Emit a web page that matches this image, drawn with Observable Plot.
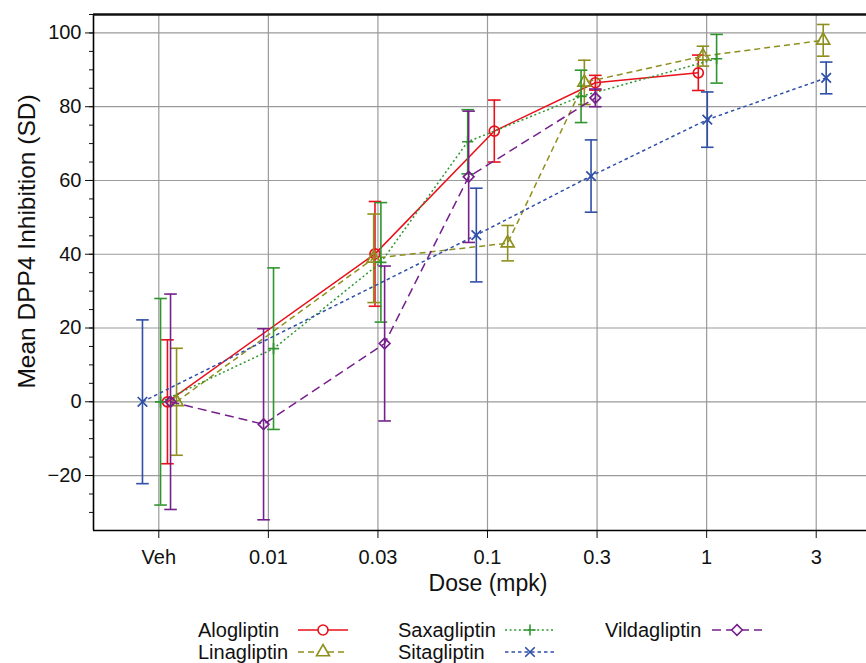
<!DOCTYPE html>
<html><head><meta charset="utf-8">
<script src="https://cdn.jsdelivr.net/npm/d3@7"></script>
<script src="https://cdn.jsdelivr.net/npm/@observablehq/plot@0.6"></script>
<style>
html,body{margin:0;padding:0;background:#fff;overflow:hidden}
#chart{position:relative;width:866px;height:663px;overflow:hidden;font-family:"Liberation Sans",Arial,sans-serif}
#legend{position:absolute;left:0;top:0;width:866px;height:663px;pointer-events:none}
.leg-item{position:absolute;display:flex;align-items:center;font-size:20px;color:#111;white-space:nowrap;height:22px}
.leg-item svg{display:block}
</style></head><body><div id="chart"><div id="legend"></div></div>
<script>
// ---- data ----
const doses = ["Veh", "0.01", "0.03", "0.1", "0.3", "1", "3"];
const seriesNames = ["Alogliptin", "Linagliptin", "Saxagliptin", "Sitagliptin", "Vildagliptin"];

// dose index, mean, SD, horizontal jitter (in dose-index units)
const aloDose = [0, 2, 3, 4, 5];
const aloMean = [0, 40.1, 73.4, 86.5, 89.2];
const aloSD   = [16.8, 14.2, 8.4, 2.0, 4.8];
const aloJit  = [0.079, -0.027, 0.062, -0.016, -0.076];

const linDose = [0, 2, 3, 4, 5, 6];
const linMean = [0, 38.9, 43.0, 86.6, 93.7, 98.0];
const linSD   = [14.5, 12.0, 4.8, 6.0, 2.7, 4.3];
const linJit  = [0.162, -0.039, 0.184, -0.116, -0.034, 0.064];

const saxDose = [0, 1, 2, 3, 4, 5];
const saxMean = [0, 14.4, 37.8, 70.5, 82.8, 93.0];
const saxSD   = [28.0, 21.9, 16.2, 8.7, 7.1, 6.6];
const saxJit  = [0.016, 0.047, 0.027, -0.181, -0.146, 0.091];

const sitDose = [0, 3, 4, 5, 6];
const sitMean = [0, 45.2, 61.2, 76.5, 87.8];
const sitSD   = [22.2, 12.7, 9.8, 7.5, 4.3];
const sitJit  = [-0.149, -0.102, -0.055, 0.006, 0.091];

const vilDose = [0, 1, 2, 3, 4];
const vilMean = [0, -6.1, 15.8, 61.0, 82.4];
const vilSD   = [29.2, 25.9, 21.0, 17.8, 2.4];
const vilJit  = [0.107, -0.044, 0.061, -0.172, -0.016];

const yMajorTicks = [-20, 0, 20, 40, 60, 80, 100];

// ---- styling ----
const styles = {
  Alogliptin:   {color: "#e8111b", dash: null,    symbol: "circle",    r: 5.0},
  Linagliptin:  {color: "#8f8f1f", dash: "6,4",   symbol: "triangle2", r: 6.2},
  Saxagliptin:  {color: "#2f962f", dash: "2,2.6", symbol: "plus",      r: 3.7},
  Sitagliptin:  {color: "#2f4fa8", dash: "3.5,3", symbol: "times",     r: 4.4},
  Vildagliptin: {color: "#76208c", dash: "9,5",   symbol: "diamond2",  r: 4.8}
};

function build(name, dose, mean, sd, jit) {
  return dose.map((d, i) => ({series: name, x: d + jit[i], mean: mean[i], lo: mean[i] - sd[i], hi: mean[i] + sd[i]}));
}
const data = {
  Alogliptin: build("Alogliptin", aloDose, aloMean, aloSD, aloJit),
  Linagliptin: build("Linagliptin", linDose, linMean, linSD, linJit),
  Saxagliptin: build("Saxagliptin", saxDose, saxMean, saxSD, saxJit),
  Sitagliptin: build("Sitagliptin", sitDose, sitMean, sitSD, sitJit),
  Vildagliptin: build("Vildagliptin", vilDose, vilMean, vilSD, vilJit)
};

const capSymbol = {draw(ctx, size) { const w = Math.sqrt(size); ctx.moveTo(-w, 0); ctx.lineTo(w, 0); }};

const xDomain = [-0.596, 6.459];
const yDomain = [-34.9, 105];

const marks = [
  Plot.gridX({ticks: d3.range(doses.length), stroke: "#9a9a9a", strokeOpacity: 1, strokeWidth: 1.2}),
  Plot.gridY({ticks: yMajorTicks, stroke: "#9a9a9a", strokeOpacity: 1, strokeWidth: 1.2}),
];
for (const name of seriesNames) {
  const st = styles[name], rows = data[name];
  marks.push(
    Plot.line(rows, {x: "x", y: "mean", stroke: st.color, strokeWidth: 1.5, strokeDasharray: st.dash, strokeLinecap: "butt"}),
    Plot.ruleX(rows, {x: "x", y1: "lo", y2: "hi", stroke: st.color, strokeWidth: 1.6}),
    Plot.dot(rows, {x: "x", y: "lo", symbol: capSymbol, r: 3.55, stroke: st.color, strokeWidth: 1.6}),
    Plot.dot(rows, {x: "x", y: "hi", symbol: capSymbol, r: 3.55, stroke: st.color, strokeWidth: 1.6}),
    Plot.dot(rows, {x: "x", y: "mean", symbol: st.symbol, r: st.r, stroke: st.color, fill: "white", fillOpacity: 0, strokeWidth: 1.7})
  );
}
marks.push(
  Plot.axisX({ticks: d3.range(doses.length), tickFormat: i => doses[i], tickSize: 8, tickPadding: 11, label: null, fontSize: 20}),
  Plot.axisY({ticks: yMajorTicks, tickSize: 8, tickPadding: 4, label: null, fontSize: 20}),
  Plot.axisY({ticks: d3.range(-30, 106, 5), tickSize: 4, tickFormat: () => "", label: null}),
  Plot.ruleX([xDomain[0]], {stroke: "#000", strokeWidth: 1.6}),
  Plot.ruleY([yDomain[0]], {stroke: "#000", strokeWidth: 1.6}),
  Plot.ruleY([yDomain[1]], {stroke: "#111", strokeWidth: 2.6}),
  Plot.text(["Dose (mpk)"], {frameAnchor: "bottom", textAnchor: "middle", dx: 8, dy: 60, fontSize: 23, fill: "#111"}),
  Plot.text(["Mean DPP4 Inhibition (SD)"], {frameAnchor: "left", textAnchor: "middle", rotate: -90, dx: -66, dy: -31, fontSize: 24.5, fill: "#111"})
);

const chart = Plot.plot({
  width: 866,
  height: 605,
  marginTop: 14,
  marginBottom: 75,
  marginLeft: 93,
  marginRight: 0,
  x: {type: "linear", domain: xDomain, axis: null},
  y: {domain: yDomain, axis: null},
  style: {fontFamily: "Liberation Sans, Arial, sans-serif", fontSize: "20px", color: "#111", background: "white", overflow: "visible"},
  marks
});
document.getElementById("chart").prepend(chart);

// ---- legend (HTML, below the SVG) ----
const legendPos = {
  Alogliptin:   {text: 198, sample: 298, y: 630},
  Saxagliptin:  {text: 398, sample: 505, y: 630},
  Vildagliptin: {text: 605, sample: 712, y: 630},
  Linagliptin:  {text: 198, sample: 298, y: 652},
  Sitagliptin:  {text: 398, sample: 505, y: 652}
};
const legend = document.getElementById("legend");
for (const name of seriesNames) {
  const st = styles[name], p = legendPos[name];
  const t = document.createElement("div");
  t.className = "leg-item";
  t.style.left = p.text + "px"; t.style.top = (p.y - 11) + "px";
  t.textContent = name;
  legend.appendChild(t);
  const sw = document.createElement("div");
  sw.className = "leg-item";
  sw.style.left = p.sample + "px"; sw.style.top = (p.y - 11) + "px";
  const sym = d3.symbol(({circle: d3.symbolCircle, triangle2: d3.symbolTriangle2, plus: d3.symbolPlus, times: d3.symbolTimes, diamond2: d3.symbolDiamond2})[st.symbol], Math.PI * st.r * st.r)();
  sw.innerHTML = `<svg width="50" height="22" viewBox="0 0 50 22">
    <line x1="0" x2="50" y1="11" y2="11" stroke="${st.color}" stroke-width="1.5" ${st.dash ? `stroke-dasharray="${st.dash}"` : ""}/>
    <path d="${sym}" transform="translate(25,11)" fill="white" stroke="${st.color}" stroke-width="1.6"/></svg>`;
  legend.appendChild(sw);
}
</script></body></html>
